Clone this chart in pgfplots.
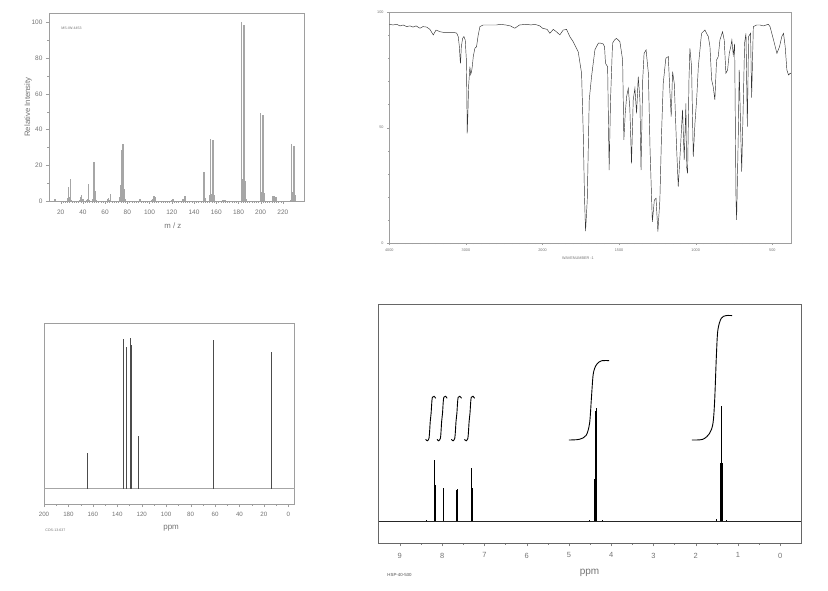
\documentclass[border=0pt]{standalone}
\usepackage{fontspec}
\setmainfont{Liberation Sans}
\usepackage{pgfplots}
\pgfplotsset{compat=1.18}
\definecolor{txt}{gray}{0.45}
\definecolor{frame}{gray}{0.62}
\pgfplotsset{
  spec/.style={
    scale only axis, anchor=south west,
    axis line style={frame}, tick style={frame},
    tick align=outside, tick pos=left,
    major tick length=3pt, minor tick length=1.6pt,
    ticklabel style={text=txt}, label style={text=txt},
    /pgf/number format/assume math mode=true,
    /pgf/number format/1000 sep={},
    clip=false,
  },
}
\begin{document}
\begin{tikzpicture}[x=1pt,y=1pt]
\path[use as bounding box] (0,0) rectangle (828,590);

% ---- mass spectrum
\begin{axis}[spec,
  at={(49pt,389pt)}, width=255pt, height=188pt,
  xmin=9.5, xmax=239, ymin=0, ymax=105.2,
  xtick={20,40,...,220}, ytick={0,20,...,100},
  minor x tick num=9, minor y tick num=1,
  ticklabel style={font=\fontsize{6.5}{7}\selectfont},
  xticklabel style={yshift=-2pt},
  xlabel={m / z}, ylabel={Relative Intensity},
  label style={font=\fontsize{7.8}{9}\selectfont},
  xlabel style={at={(axis description cs:0.486,0)}, anchor=center, yshift=-24.5pt},
  ylabel style={at={(axis description cs:-0.082,0.5)}, anchor=center},
]
\addplot[ycomb, gray!70, line width=1.3pt] coordinates {
(15,1.0) (26,1.5) (27,7.8) (28,2.0) (29,12.3) (30,0.8) (37,0.8) (38,2.0)
(39,3.1) (40,1.0) (43,0.8) (44,1.2) (45,9.7) (46,0.6) (49,1.0) (50,22.1)
(51,5.8) (52,0.8) (62,1.0) (63,1.5) (64,0.8) (65,4.1) (73,2.0) (74,9.1)
(75,28.7) (76,32.0) (77,6.9) (78,1.0) (91,1.0) (92,1.2) (102,0.8) (103,1.0)
(104,3.0) (105,2.0) (120,0.8) (121,1.2) (130,1.2) (131,0.8) (132,2.8)
(149,16.2) (150,1.6) (154,3.5) (155,34.8) (156,4.0) (157,34.0) (158,3.5)
(166,0.8) (168,0.6) (183,100) (184,12.5) (185,98.6) (186,11.0) (187,1.0)
(200,49.2) (201,5.0) (202,48.0) (203,4.5) (211,2.8) (212,2.6) (213,2.5)
(214,2.0) (227,0.8) (228,32.0) (229,5.0) (230,31.0) (231,3.5)
};
\end{axis}
\node[font=\fontsize{3.6}{4}\selectfont, text=txt] at (71.5,562) {MS-IW-4453};

% ---- IR spectrum (scale changes at 2000)
\begin{axis}[spec,
  at={(389.3pt,347pt)}, width=401.4pt, height=230.7pt,
  x coord trafo/.code={\pgfmathparse{#1>=2000 ? (4000-#1)/2 : 3000-#1}},
  x coord inv trafo/.code={\pgfmathparse{#1<=1000 ? 4000-2*#1 : 3000-#1}},
  xmin=4000, xmax=380, ymin=0, ymax=100,
  xtick={4000,3000,2000,1500,1000,500},
  xticklabels={4000,3000,2000,1500,1000,500},
  ytick={0,50,100}, minor x tick num=9, minor y tick num=4,
  major tick length=2.2pt, minor tick length=1.2pt,
  ticklabel style={font=\fontsize{3.8}{4}\selectfont},
  xlabel={WAVENUMBER -1},
  xlabel style={font=\fontsize{3.8}{4}\selectfont, at={(axis description cs:0.47,0)}, anchor=center, yshift=-15pt},
]
\addplot[black!80, line width=0.45pt] coordinates {
(4000,94.8) (3950,94.5) (3904,94.8) (3860,94.1) (3820,94.5) (3774,93.8)
(3730,94.1) (3690,93.6) (3650,94.1) (3600,93.1) (3560,93.8) (3513,93.6)
(3470,92.6) (3426,90.2) (3390,92.3) (3339,91.6) (3280,91.2) (3209,91.2)
(3150,91.2) (3122,91.0) (3100,89.5) (3085,85.0) (3075,79.3) (3070,77.9)
(3060,85.0) (3043,88.7) (3026,89.5) (3009,88.0) (2995,80.0) (2988,65.0)
(2983,47.5) (2975,55.0) (2965,67.8) (2948,76.4) (2938,73.0) (2926,74.3)
(2915,77.0) (2904,80.8) (2883,84.4) (2861,85.1) (2840,90.0) (2817,93.8)
(2774,94.5) (2700,94.5) (2600,94.5) (2556,94.8) (2480,94.5) (2420,94.1)
(2361,93.1) (2300,94.5) (2209,94.8) (2150,94.5) (2100,94.8) (2035,94.1)
(2000,93.1) (1970,92.6) (1952,90.9) (1930,92.6) (1910,91.6) (1887,90.2)
(1865,92.3) (1843,92.6) (1822,89.5) (1800,87.3) (1789,85.8) (1767,82.9)
(1745,73.6) (1734,47.5) (1726,20.0) (1719,5.2) (1708,18.6) (1695,62.0)
(1680,72.1) (1658,83.7) (1636,86.6) (1620,86.6) (1604,86.3) (1595,85.0)
(1589,77.9) (1575,76.4) (1565,31.6) (1556,62.0) (1543,86.6) (1530,88.0)
(1517,88.7) (1495,87.3) (1477,79.3) (1469,44.7) (1460,56.2) (1451,63.4)
(1440,67.1) (1430,58.5) (1419,34.5) (1408,62.0) (1397,67.1) (1386,56.2)
(1375,72.1) (1364,62.0) (1357,31.6) (1346,70.7) (1337,82.2) (1324,83.7)
(1309,73.6) (1298,40.3) (1283,9.2) (1270,18.6) (1259,19.4) (1247,4.9)
(1234,18.6) (1223,47.5) (1212,69.2) (1195,80.1) (1179,80.8) (1168,64.9)
(1160,54.8) (1151,74.3) (1140,69.2) (1125,41.8) (1114,24.4) (1099,41.8)
(1086,57.7) (1075,36.0) (1064,60.5) (1060,33.1) (1053,30.2) (1044,70.7)
(1038,84.4) (1027,76.4) (1016,37.4) (1005,51.9) (994,62.0) (983,76.4)
(962,90.9) (940,92.3) (918,89.5) (907,85.1) (896,70.7) (886,67.8)
(875,62.0) (864,79.3) (853,80.8) (842,88.0) (825,91.6) (814,88.0)
(803,73.6) (792,75.0) (781,82.2) (771,85.1) (764,88.0) (755,81.5)
(746,86.3) (737,18.6) (733,10.0) (722,47.5) (716,75.0) (707,50.4)
(700,30.9) (689,62.0) (681,86.6) (672,90.9) (663,50.4) (655,89.5)
(642,90.9) (635,63.0) (624,93.8) (602,94.5) (581,94.5) (559,94.1)
(526,94.8) (515,93.8) (492,88.0) (470,82.2) (453,85.1) (438,89.5)
(427,90.9) (416,85.1) (405,75.0) (394,72.8) (383,73.6) (380,73.4)
};
\end{axis}

% ---- 13C NMR
\begin{axis}[spec,
  at={(44pt,86pt)}, width=250.7pt, height=181.3pt,
  x dir=reverse, xmin=-5.2, xmax=200, ymin=-15.3, ymax=166,
  xtick={0,20,...,200}, minor x tick num=1, ytick=\empty,
  ticklabel style={font=\fontsize{6.2}{7}\selectfont},
  xticklabel style={yshift=-2pt},
  xlabel={ppm},
  xlabel style={font=\fontsize{8}{9}\selectfont, at={(axis description cs:0.507,0)}, anchor=center, yshift=-24pt},
]
\addplot[gray!70, line width=1pt] coordinates {(200,0) (-5.2,0)};
\addplot[ycomb, black!70, line width=0.5pt] coordinates {
(164.6,36.0) (135.4,149.3) (132.4,141.3) (129.8,150.7) (129.6,4.0)
(128.3,143.3) (122.7,52.7) (61.8,148.7) (14.4,136.7)
};
\end{axis}
\node[font=\fontsize{3.6}{4}\selectfont, text=txt] at (55.5,60) {CDS-13-637};

% ---- 1H NMR
\begin{axis}[spec,
  at={(378.7pt,46.7pt)}, width=422.6pt, height=239pt,
  axis line style={gray!80!black}, tick style={gray},
  x dir=reverse, xmin=-0.5, xmax=9.5, ymin=-22, ymax=217,
  xtick={0,...,9}, minor x tick num=1, ytick=\empty,
  ticklabel style={font=\fontsize{7.5}{8}\selectfont},
  xticklabel style={yshift=-3pt},
  xlabel={ppm},
  xlabel style={font=\fontsize{10}{11}\selectfont, at={(axis description cs:0.499,0)}, anchor=center, yshift=-30pt},
]
\addplot[black!85, line width=0.6pt] coordinates {(9.5,0) (-0.5,0)};
\addplot[ycomb, black, line width=0.6pt] coordinates {
(8.38,1.0) (8.175,61.0) (8.165,36.0) (7.98,33.7) (7.96,31.0)
(7.67,31.0) (7.65,32.0) (7.31,53.0) (7.29,33.0) (7.28,30.0)
(4.52,1.0) (4.40,42.0) (4.38,110.0) (4.36,113.0) (4.34,42.0) (4.22,1.0)
(1.52,2.0) (1.41,58.0) (1.39,115.0) (1.37,58.0) (1.27,1.0)
};
% integral curves
\addplot[black, line width=0.9pt, smooth] coordinates {
(8.39,82) (8.35,80.5) (8.31,83) (8.295,90) (8.28,100) (8.26,108) (8.245,118) (8.23,124) (8.19,125) (8.15,123)};
\addplot[black, line width=0.9pt, smooth] coordinates {
(8.12,82) (8.08,80.5) (8.04,83) (8.025,90) (8.01,100) (7.99,108) (7.975,118) (7.96,124) (7.92,125) (7.88,123)};
\addplot[black, line width=0.9pt, smooth] coordinates {
(7.78,82) (7.74,80.5) (7.70,83) (7.685,90) (7.67,100) (7.65,108) (7.635,118) (7.62,124) (7.58,125) (7.54,123)};
\addplot[black, line width=0.9pt, smooth] coordinates {
(7.47,82) (7.43,80.5) (7.39,83) (7.375,90) (7.36,100) (7.34,108) (7.325,118) (7.31,124) (7.27,125) (7.23,123)};
\addplot[black, line width=0.9pt, smooth] coordinates {
(5.00,81.3) (4.75,82) (4.59,86) (4.51,98) (4.47,121) (4.43,145) (4.39,153) (4.33,157.5) (4.23,160.5) (4.05,160.7)};
\addplot[black, line width=0.9pt, smooth] coordinates {
(2.09,81.3) (1.83,82) (1.67,88) (1.59,98) (1.55,121) (1.51,165) (1.475,191) (1.395,203) (1.28,205.7) (1.135,205.7)};
\end{axis}
\node[font=\fontsize{4.4}{5}\selectfont, text=black!70] at (399.5,15) {HSP-40-530};
\end{tikzpicture}
\end{document}
